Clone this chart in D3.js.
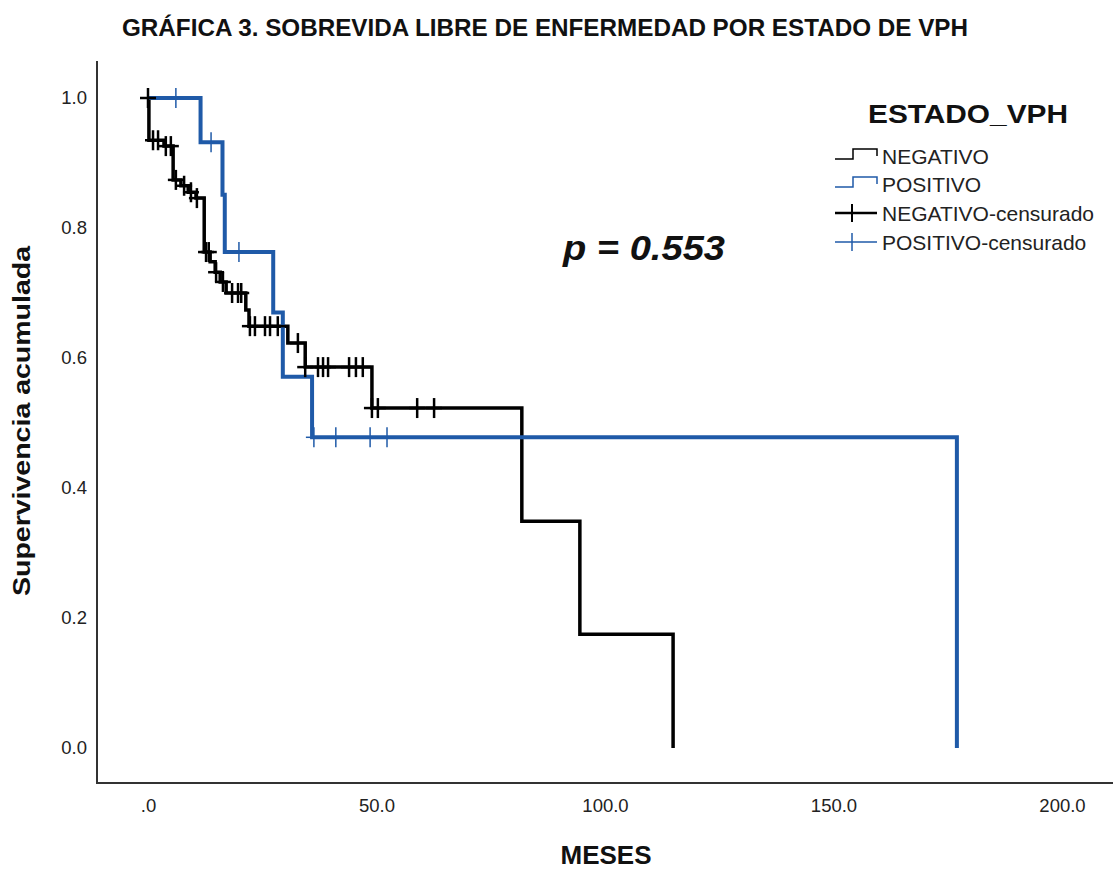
<!DOCTYPE html>
<html>
<head>
<meta charset="utf-8">
<script src="https://cdn.jsdelivr.net/npm/d3@7"></script>
<style>
body { margin: 0; background: #fff; }
text { font-family: "Liberation Sans", Arial, sans-serif; }
</style>
</head>
<body>
<div id="vis"></div>
<script>
// Kaplan-Meier steps (meses, supervivencia)
var negTimes = [0.2, 3.5, 5.5, 7.2, 8.8, 10.5, 12.3, 13.6, 14.7, 15.8, 17.1, 21.4, 22.1, 30.6, 34.4, 49.0, 81.8, 94.5, 114.9];
var negSurv  = [0.935, 0.926, 0.874, 0.865, 0.855, 0.846, 0.763, 0.748, 0.732, 0.717, 0.700, 0.674, 0.649, 0.623, 0.586, 0.523, 0.349, 0.175, 0];
var negCens  = [0.0, 1.1, 2.2, 3.9, 5.0, 6.1, 7.9, 9.4, 10.7, 12.7, 13.3, 14.9, 16.4, 18.4, 19.7, 20.4, 22.3, 23.4, 25.6, 26.7, 28.4, 32.8, 34.4, 37.2, 38.3, 39.4, 44.0, 45.5, 47.0, 49.0, 50.3, 58.9, 62.6];

var posTimes = [11.5, 16.3, 16.8, 27.4, 29.5, 35.9, 177.0];
var posSurv  = [0.932, 0.851, 0.763, 0.670, 0.571, 0.478, 0];
var posCens  = [6.1, 13.8, 19.9, 36.3, 41.1, 48.6, 52.3];

var xTicks = [0, 50, 100, 150, 200];
var yTicks = [0, 0.2, 0.4, 0.6, 0.8, 1.0];

var legendLabels = ["NEGATIVO", "POSITIVO", "NEGATIVO-censurado", "POSITIVO-censurado"];

var black = "#000000", blue = "#1f5aa8";

var svg = d3.select("#vis")
  .append("svg")
  .attr("width", 1115)
  .attr("height", 869);

var x = d3.scaleLinear().domain([0, 200]).range([148, 1062]);
var y = d3.scaleLinear().domain([0, 1]).range([748, 98]);

// title
svg.append("text")
  .attr("x", 545).attr("y", 36)
  .attr("text-anchor", "middle")
  .attr("textLength", 846)
  .attr("lengthAdjust", "spacingAndGlyphs")
  .style("font-family", "'Liberation Sans Narrow', 'Arial Narrow', 'Liberation Sans', sans-serif")
  .style("font-weight", "bold")
  .style("font-size", "24px")
  .attr("fill", "#111")
  .text("GRÁFICA 3. SOBREVIDA LIBRE DE ENFERMEDAD POR ESTADO DE VPH");

// axes lines
svg.append("line").attr("x1", 97).attr("x2", 97).attr("y1", 61).attr("y2", 783)
  .attr("stroke", "#333").attr("stroke-width", 2);
svg.append("line").attr("x1", 96).attr("x2", 1113).attr("y1", 783).attr("y2", 783)
  .attr("stroke", "#333").attr("stroke-width", 2);

var yAxis = svg.append("g")
  .attr("transform", "translate(97,0)")
  .call(d3.axisLeft(y).tickValues(yTicks).tickSize(0).tickPadding(10).tickFormat(d3.format(".1f")));

var xAxis = svg.append("g")
  .attr("transform", "translate(0,783)")
  .call(d3.axisBottom(x).tickValues(xTicks).tickSize(0).tickPadding(16)
    .tickFormat(function(d) { return d === 0 ? ".0" : d3.format(".1f")(d); }));

svg.selectAll(".domain").remove();
svg.selectAll(".tick text")
  .style("font-size", "18.5px")
  .style("font-family", "'Liberation Sans', Arial, sans-serif")
  .attr("fill", "#222");

// axis titles
svg.append("text")
  .attr("transform", "translate(30,421) rotate(-90)")
  .attr("text-anchor", "middle")
  .attr("textLength", 350)
  .attr("lengthAdjust", "spacingAndGlyphs")
  .style("font-weight", "bold")
  .style("font-size", "24px")
  .attr("fill", "#111")
  .text("Supervivencia acumulada");

svg.append("text")
  .attr("x", 606).attr("y", 864)
  .attr("text-anchor", "middle")
  .style("font-weight", "bold")
  .style("font-size", "26px")
  .attr("fill", "#111")
  .text("MESES");

// p value
svg.append("text")
  .attr("x", 644).attr("y", 260)
  .attr("text-anchor", "middle")
  .attr("textLength", 162)
  .attr("lengthAdjust", "spacingAndGlyphs")
  .style("font-weight", "bold")
  .style("font-style", "italic")
  .style("font-size", "35px")
  .attr("fill", "#111")
  .text("p = 0.553");

function stepPoints(times, surv) {
  var pts = [[0, 1]];
  for (var i = 0; i < times.length; i++) pts.push([times[i], surv[i]]);
  return pts;
}

function levelAt(t, times, surv) {
  var s = 1;
  for (var i = 0; i < times.length; i++) { if (times[i] <= t) s = surv[i]; }
  return s;
}

var line = d3.line()
  .x(function(d) { return x(d[0]); })
  .y(function(d) { return y(d[1]); })
  .curve(d3.curveStepAfter);

svg.append("path")
  .datum(stepPoints(negTimes, negSurv))
  .attr("d", line)
  .attr("fill", "none")
  .attr("stroke", black)
  .attr("stroke-width", 3.5);

svg.append("path")
  .datum(stepPoints(posTimes, posSurv))
  .attr("d", line)
  .attr("fill", "none")
  .attr("stroke", blue)
  .attr("stroke-width", 4);

function drawCensors(cens, times, surv, color, width) {
  var g = svg.append("g").attr("stroke", color).attr("stroke-width", width);
  cens.forEach(function(t) {
    var cx = x(t), cy = y(levelAt(t, times, surv));
    g.append("line").attr("x1", cx - 8).attr("x2", cx + 8).attr("y1", cy).attr("y2", cy);
    g.append("line").attr("x1", cx).attr("x2", cx).attr("y1", cy - 10).attr("y2", cy + 10);
  });
}

drawCensors(negCens, negTimes, negSurv, black, 2.5);
drawCensors(posCens, posTimes, posSurv, blue, 1.5);

// legend
var legend = svg.append("g");
legend.append("text")
  .attr("x", 868).attr("y", 123)
  .attr("textLength", 200)
  .attr("lengthAdjust", "spacingAndGlyphs")
  .style("font-weight", "bold")
  .style("font-size", "26px")
  .attr("fill", "#111")
  .text("ESTADO_VPH");

var rowBase = [164, 192, 221, 250];
var rowColor = [black, blue, black, blue];

legendLabels.forEach(function(lab, i) {
  var b = rowBase[i];
  if (i < 2) {
    legend.append("path")
      .attr("d", "M835," + (b - 5) + "H853V" + (b - 15) + "H877V" + (b - 8))
      .attr("fill", "none")
      .attr("stroke", rowColor[i])
      .attr("stroke-width", 1.5);
  } else {
    legend.append("line")
      .attr("x1", 835).attr("x2", 877).attr("y1", b - 8).attr("y2", b - 8)
      .attr("stroke", rowColor[i]).attr("stroke-width", i === 2 ? 2.5 : 1.5);
    legend.append("line")
      .attr("x1", 852).attr("x2", 852).attr("y1", b - 17).attr("y2", b + 1)
      .attr("stroke", rowColor[i]).attr("stroke-width", i === 2 ? 2 : 1.5);
  }
  legend.append("text")
    .attr("x", 882).attr("y", b)
    .style("font-size", "21px")
    .attr("fill", "#222")
    .text(lab);
});
</script>
</body>
</html>
